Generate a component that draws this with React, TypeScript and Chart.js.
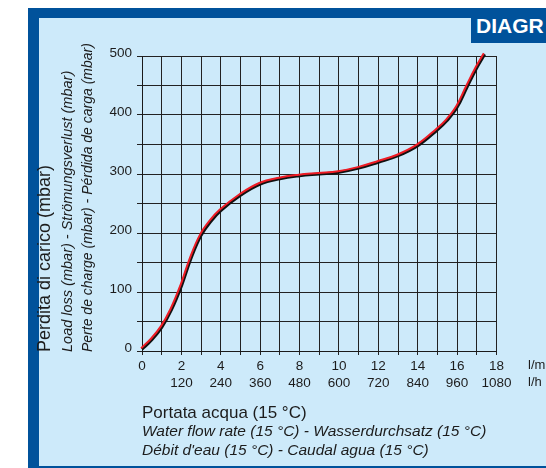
import React, { useEffect, useRef } from "react";
import { Chart, registerables } from "chart.js";

Chart.register(...registerables);

// Flow rate (l/min) and pressure loss (mbar)
const flowLpm = [0, 0.5, 1, 1.5, 2, 2.5, 3, 3.5, 4, 5, 6, 7, 8, 9, 10, 11, 12, 13, 14, 15, 15.5, 16, 16.5, 17, 17.4];
const lossMbar = [3, 19, 40, 70, 110, 158, 196, 220, 238, 264, 283, 292, 297, 300, 303, 310, 320, 331, 348, 375, 391, 413, 447, 480, 503];

const xTicksLpm = ["0", "2", "4", "6", "8", "10", "12", "14", "16", "18"];
const xTicksLph = ["", "120", "240", "360", "480", "600", "720", "840", "960", "1080"];
const yTickLabels = ["0", "100", "200", "300", "400", "500"];

const yTitles = [
  "Perdita di carico (mbar)",
  "Load loss (mbar) - Strömungsverlust (mbar)",
  "Perte de charge (mbar) - Pérdida de carga (mbar)",
];
const xTitles = [
  "Portata acqua (15 °C)",
  "Water flow rate (15 °C) - Wasserdurchsatz (15 °C)",
  "Débit d'eau (15 °C) - Caudal agua (15 °C)",
];
const unitLabels = ["l/m", "l/h"];

const FONT = "'Liberation Sans', Arial, Helvetica, sans-serif";
const TEXT = "#1c1c1c";
const DARK_BLUE = "#00529b";
const LIGHT_BLUE = "#cdeafa";

export default function App() {
  const ref = useRef<HTMLCanvasElement | null>(null);

  useEffect(() => {
    if (!ref.current) return;
    const points = flowLpm.map((x, i) => ({ x, y: lossMbar[i] }));

    const offsetPlugin = {
      id: "offsetRed",
      beforeDatasetDraw(chart: any, args: any) {
        if (args.index === 0) {
          chart.ctx.save();
          chart.ctx.translate(-0.9, -1);
        }
      },
      afterDatasetDraw(chart: any, args: any) {
        if (args.index === 0) chart.ctx.restore();
      },
    };

    const textPlugin = {
      id: "texts",
      afterDraw(chart: any) {
        const ctx = chart.ctx;
        ctx.save();
        ctx.fillStyle = TEXT;
        // y titles
        const yBase = [50, 72, 92];
        const yFonts = [`18px ${FONT}`, `italic 14.5px ${FONT}`, `italic 14px ${FONT}`];
        yTitles.forEach((t, i) => {
          ctx.save();
          ctx.translate(yBase[i], 352);
          ctx.rotate(-Math.PI / 2);
          ctx.textAlign = "left";
          ctx.textBaseline = "alphabetic";
          ctx.font = yFonts[i];
          ctx.fillText(t, 0, 0);
          ctx.restore();
        });
        // x titles
        const xMid = [413, 432, 451];
        xTitles.forEach((t, i) => {
          ctx.textAlign = "left";
          ctx.textBaseline = "middle";
          ctx.font = i === 0 ? `17px ${FONT}` : `italic 15.5px ${FONT}`;
          ctx.fillText(t, 142, xMid[i]);
        });
        // unit labels
        ctx.font = `13px ${FONT}`;
        ctx.fillText(unitLabels[0], 528, 365);
        ctx.fillText(unitLabels[1], 528, 382);
        ctx.restore();
      },
    };

    const chart = new Chart(ref.current, {
      type: "line",
      data: {
        datasets: [
          {
            data: points,
            borderColor: "#ee1c25",
            borderWidth: 2,
            pointRadius: 0,
            tension: 0.4,
            clip: false as any,
          },
          {
            data: points,
            borderColor: "#111111",
            borderWidth: 3,
            pointRadius: 0,
            tension: 0.4,
            clip: false as any,
          },
        ],
      },
      options: {
        animation: false,
        responsive: false,
        devicePixelRatio: 1,
        layout: { padding: { top: 56, right: 49.5, left: 0, bottom: 0 } },
        plugins: { legend: { display: false }, tooltip: { enabled: false } },
        scales: {
          x: {
            type: "linear",
            min: 0,
            max: 18,
            afterFit(scale: any) {
              scale.height = 117;
            },
            border: { color: "#1a1a1a", width: 1 },
            grid: { color: "#222222", lineWidth: 1, tickLength: 4 },
            ticks: {
              stepSize: 1,
              autoSkip: false,
              maxRotation: 0,
              padding: 3,
              color: TEXT,
              font: { family: FONT, size: 13.5, lineHeight: 1.25 },
              callback: (v: any) => {
                const n = Number(v);
                if (n % 2 !== 0) return "";
                const i = n / 2;
                return [xTicksLpm[i], xTicksLph[i]];
              },
            },
          },
          y: {
            type: "linear",
            min: 0,
            max: 500,
            afterFit(scale: any) {
              scale.width = 142;
            },
            border: { color: "#1a1a1a", width: 1 },
            grid: { color: "#222222", lineWidth: 1, tickLength: 5 },
            ticks: {
              stepSize: 50,
              autoSkip: false,
              padding: 5,
              labelOffset: -3,
              color: TEXT,
              font: { family: FONT, size: 13.5 },
              callback: (v: any) => {
                const n = Number(v);
                return n % 100 === 0 ? yTickLabels[n / 100] : "";
              },
            },
          },
        },
      },
      plugins: [offsetPlugin, textPlugin],
    });
    return () => chart.destroy();
  }, []);

  return (
    <div
      style={{
        position: "absolute",
        left: 0,
        top: 0,
        width: 546,
        height: 468,
        background: "#ffffff",
        overflow: "hidden",
      }}
    >
      <div style={{ position: "absolute", left: 28, top: 8, width: 518, height: 460, background: DARK_BLUE }} />
      <div style={{ position: "absolute", left: 39, top: 18, width: 507, height: 448, background: LIGHT_BLUE }} />
      <div
        style={{
          position: "absolute",
          left: 471,
          top: 8,
          width: 75,
          height: 35,
          background: DARK_BLUE,
          color: "#ffffff",
          fontFamily: FONT,
          fontWeight: "bold",
          fontSize: 21,
          lineHeight: "35px",
          paddingLeft: 5,
          boxSizing: "border-box",
          whiteSpace: "nowrap",
        }}
      >
        DIAGR
      </div>
      <canvas ref={ref} width={546} height={468} style={{ position: "absolute", left: 0, top: 0, width: 546, height: 468 }} />
    </div>
  );
}
